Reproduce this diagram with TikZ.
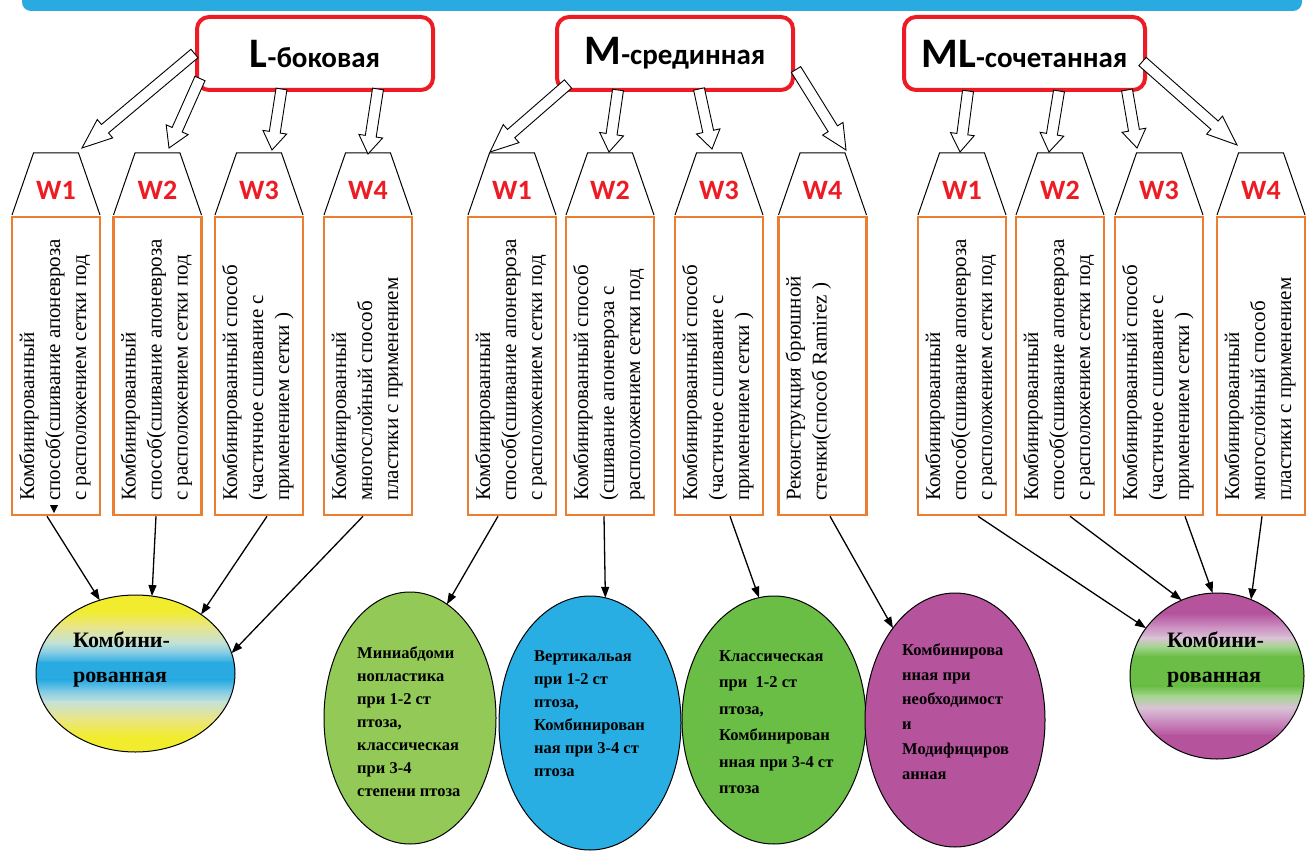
\documentclass[tikz,border=0pt]{standalone}
\usepackage{fontspec}
\setmainfont{Liberation Serif}[BoldFont={Liberation Serif Bold}]
\newfontfamily\carl{Carlito}[BoldFont={Carlito Bold}]
\usetikzlibrary{calc,shapes.geometric,arrows.meta}

\definecolor{bannerblue}{HTML}{29ABE2}
\definecolor{hred}{HTML}{ED1C24}
\definecolor{borange}{HTML}{ED7D31}
\definecolor{eGreenA}{HTML}{93C957}
\definecolor{eBlue}{HTML}{29AEE4}
\definecolor{eGreenB}{HTML}{6ABD45}
\definecolor{eMag}{HTML}{B5539D}
\definecolor{cY}{HTML}{F2EC2E}
\definecolor{cYp}{HTML}{E8E58A}
\definecolor{cPale}{HTML}{C5E2D5}
\definecolor{cBp}{HTML}{7FCAE6}
\definecolor{cB}{HTML}{29ABE2}
\definecolor{cM}{HTML}{B5539D}
\definecolor{cMp}{HTML}{CB8DC0}
\definecolor{cMPale}{HTML}{D9C2D5}
\definecolor{cGp}{HTML}{A6D592}
\definecolor{cG}{HTML}{6ABD45}

\newcommand{\txA}{Комбинированный\\способ(сшивание апоневроза\\с расположением сетки под}
\newcommand{\txB}{Комбинированный способ\\(частичное сшивание с\\применением сетки )}
\newcommand{\txC}{Комбинированный\\многослойный способ\\пластики с применением}
\newcommand{\txD}{Комбинированный способ\\(сшивание апоневроза с\\расположением сетки под}
\newcommand{\txE}{Реконструкция брюшной\\стенки(способ Ramirez )}

\newcommand{\wcol}[4]{%
  \draw[trap] (#2-44,215) -- (#2-22.5,153) -- (#2+22.5,153) -- (#2+44,215);
  \node[wlabel] (t#1) at (#2,190) {#3};
  \node[wrect] (r#1) at (#2,366) {};
  \node[vtext] (x#1) at (#2-37,501) {#4};
}
\newcommand{\barrow}[3]{%
  \coordinate (bh) at ($(#2)!#3!(#1)$);
  \draw[blk] ($(#1)!5.5pt!90:(#2)$) -- ($(bh)!5.5pt!90:(#2)$) -- ($(bh)!12pt!90:(#2)$) -- (#2)
    -- ($(bh)!12pt!-90:(#2)$) -- ($(bh)!5.5pt!-90:(#2)$) -- ($(#1)!5.5pt!-90:(#2)$) -- cycle;
}
% banded gradient inside an ellipse: #1 cx, #2 cy, #3 rx, #4 ry, #5 stops a/ca/b/cb in percent of height
\newcommand{\bandfill}[5]{%
  \begin{scope}
    \clip (#1,#2) ellipse [x radius=#3pt, y radius=#4pt];
    \foreach \a/\ca/\b/\cb in {#5} {
      \shade[top color=\ca, bottom color=\cb]
        (#1-#3-2, #2-#4+\a*#4/50) rectangle (#1+#3+2, #2-#4+\b*#4/50+0.6);
    }
  \end{scope}
}

\begin{document}
\begin{tikzpicture}[x=1pt,y=-1pt,
  hbox/.style={draw=hred, line width=4pt, rounded corners=12pt, fill=white, minimum height=73pt, inner sep=0},
  wrect/.style={draw=borange, line width=2.5pt, minimum width=88pt, minimum height=298pt, inner sep=0},
  trap/.style={draw=black, line width=1pt},
  wlabel/.style={text=hred, font=\carl\bfseries\fontsize{28}{30}\selectfont, inner sep=0},
  vtext/.style={rotate=90, anchor=north west, align=left, inner sep=0, font=\fontsize{21}{26}\selectfont},
  blk/.style={draw=black, fill=white, line width=0.9pt, line join=miter},
  conn/.style={line width=1.3pt, -{Triangle[length=11pt,width=8pt]}},
  oval/.style={ellipse, draw=black, line width=1pt, inner sep=0, outer sep=0},
  otext/.style={align=left, anchor=north west, inner sep=0, font=\bfseries\fontsize{16.5}{23}\selectfont},
  stext/.style={align=left, anchor=north west, inner sep=0, font=\bfseries\fontsize{22}{35}\selectfont}]
\useasboundingbox (0,0) rectangle (1306,853);

% banner
\fill[bannerblue, rounded corners=9pt] (22,-20) rectangle (1302,11);

% header boxes
\node[hbox, minimum width=236pt] (Lh) at (315,53.5) {\carl\bfseries{\fontsize{42}{44}\selectfont L}{\fontsize{29}{32}\selectfont -боковая}};
\node[hbox, minimum width=236pt] (Mh) at (675,53.5) {\carl\bfseries{\fontsize{42}{44}\selectfont M}{\fontsize{29}{32}\selectfont -срединная}};
\node[hbox, minimum width=241pt] (MLh) at (1024.5,53.5) {\carl\bfseries{\fontsize{42}{44}\selectfont ML}{\fontsize{29}{32}\selectfont -сочетанная}};

% columns
\wcol{L1}{56}{W1}{\txA}
\wcol{L2}{157.5}{W2}{\txA}
\wcol{L3}{259}{W3}{\txB}
\wcol{L4}{368}{W4}{\txC}
\wcol{M1}{512}{W1}{\txA}
\wcol{M2}{610}{W2}{\txD}
\wcol{M3}{719}{W3}{\txB}
\wcol{M4}{822.5}{W4}{\txE}
\wcol{ML1}{962}{W1}{\txA}
\wcol{ML2}{1060}{W2}{\txA}
\wcol{ML3}{1159}{W3}{\txB}
\wcol{ML4}{1261}{W4}{\txC}

% block arrow ends
\coordinate (aL1s) at (194.5,53.5);  \coordinate (aL1e) at (82,148);
\coordinate (aL2s) at (200,78.5);    \coordinate (aL2e) at (169,148);
\coordinate (aL3s) at (281.5,89);    \coordinate (aL3e) at (272,150);
\coordinate (aL4s) at (378,89);      \coordinate (aL4e) at (368,154);
\coordinate (aM1s) at (568,84);      \coordinate (aM1e) at (490,152);
\coordinate (aM2s) at (618,90);      \coordinate (aM2e) at (609,152);
\coordinate (aM3s) at (699,89);      \coordinate (aM3e) at (712,149);
\coordinate (aM4s) at (796,69.5);    \coordinate (aM4e) at (846,150);
\coordinate (aN1s) at (968,91);      \coordinate (aN1e) at (960,152);
\coordinate (aN2s) at (1059,91);     \coordinate (aN2e) at (1049,152);
\coordinate (aN3s) at (1127,90);     \coordinate (aN3e) at (1137,148);
\coordinate (aN4s) at (1142.5,61.5); \coordinate (aN4e) at (1237,145);

\barrow{aL1s}{aL1e}{30pt}
\barrow{aL2s}{aL2e}{20pt}
\barrow{aL3s}{aL3e}{18pt}
\barrow{aL4s}{aL4e}{18pt}
\barrow{aM1s}{aM1e}{28pt}
\barrow{aM2s}{aM2e}{18pt}
\barrow{aM3s}{aM3e}{18pt}
\barrow{aM4s}{aM4e}{25pt}
\barrow{aN1s}{aN1e}{18pt}
\barrow{aN2s}{aN2e}{18pt}
\barrow{aN3s}{aN3e}{18pt}
\barrow{aN4s}{aN4e}{30pt}

% small mark in the first box
\fill (50,505) -- (58,505) -- (54,513) -- cycle;

% ellipses
\bandfill{135.5}{673.5}{99.5}{78.5}{0/cY/10/cY, 10/cY/20/cYp, 20/cYp/30/cPale, 30/cPale/37/cBp, 37/cBp/43/cB, 43/cB/54/cB, 54/cB/61/cBp, 61/cBp/68/cPale, 68/cPale/78/cYp, 78/cYp/90/cY, 90/cY/100/cY}
\node[oval, minimum width=199pt, minimum height=157pt] (eL) at (135.5,673.5) {};
\node[oval, fill=eGreenA, minimum width=172pt, minimum height=252pt] (eG1) at (410,718) {};
\node[oval, fill=eBlue, minimum width=182pt, minimum height=254pt] (eB) at (590,723) {};
\node[oval, fill=eGreenB, minimum width=184pt, minimum height=248pt] (eG2) at (774,720) {};
\node[oval, fill=eMag, minimum width=180pt, minimum height=254pt] (eM) at (955,720) {};
\bandfill{1217}{676}{87}{83}{0/cM/12/cM, 12/cM/20/cMp, 20/cMp/27/cMPale, 27/cMPale/32/cGp, 32/cGp/38/cG, 38/cG/56/cG, 56/cG/62/cGp, 62/cGp/69/cMPale, 69/cMPale/77/cMp, 77/cMp/86/cM, 86/cM/100/cM}
\node[oval, minimum width=174pt, minimum height=166pt] (eR) at (1217,676) {};

\node[stext] (sL) at (73,632) {Комбини-\\рованная};
\node[stext] (sR) at (1167,632) {Комбини-\\рованная};
\node[otext] (oG1) at (357,646.5) {Миниабдоми\\нопластика\\при 1-2 ст\\птоза,\\классическая\\при 3-4\\степени птоза};
\node[otext] (oB) at (534,650.5) {Вертикальая\\при 1-2 ст\\птоза,\\Комбинирован\\ная при 3-4 ст\\птоза};
\node[otext, font=\bfseries\fontsize{16.5}{26.4}\selectfont] (oG2) at (719,650.5) {Классическая\\при~ 1-2 ст\\птоза,\\Комбинирован\\нная при 3-4 ст\\птоза};
\node[otext, font=\bfseries\fontsize{16.5}{24.7}\selectfont] (oM) at (902,643.5) {Комбинирова\\нная при\\необходимост\\и\\Модифициров\\анная};

% connectors
\draw[conn] ([xshift=-9pt]rL1.south) -- (eL.116);
\draw[conn] ([xshift=-1.5pt]rL2.south) -- (eL.78);
\draw[conn] ([xshift=8pt]rL3.south) -- (eL.42);
\draw[conn] ([xshift=-5pt]rL4.south) -- (eL.12);
\draw[conn] ([xshift=-14pt]rM1.south) -- (eG1.72);
\draw[conn] ([xshift=-6pt]rM2.south) -- (eB.83);
\draw[conn] ([xshift=11pt]rM3.south) -- (eG2.97);
\draw[conn] ([xshift=7.5pt]rM4.south) -- (eM.124);
\draw[conn] ([xshift=16pt]rML1.south) -- (eR.146);
\draw[conn] ([xshift=10pt]rML2.south) -- (eR.115);
\draw[conn] ([xshift=26pt]rML3.south) -- (eR.93);
\draw[conn] ([xshift=1pt]rML4.south) -- (eR.66);
\end{tikzpicture}
\end{document}
